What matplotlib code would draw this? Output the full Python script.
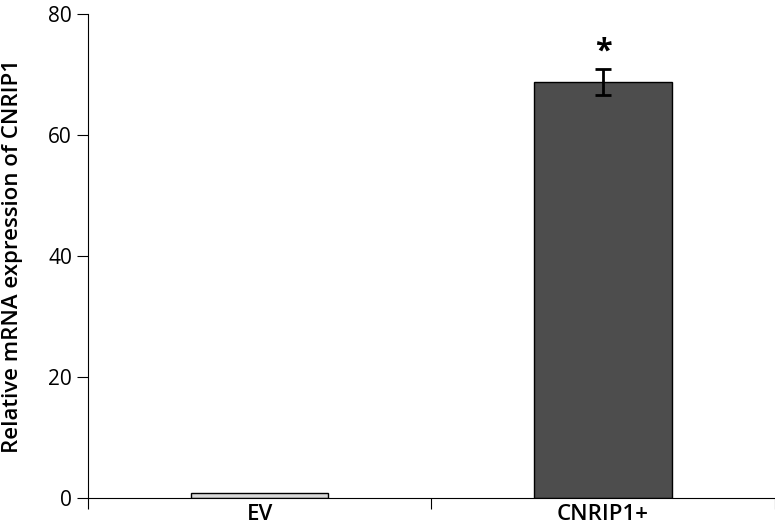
import matplotlib
matplotlib.use("Agg")
import matplotlib.pyplot as plt

categories = ["EV", "CNRIP1+"]
values = [0.9, 68.8]
errors = [0.0, 2.15]
colors = ["#d9d9d9", "#4d4d4d"]
y_ticks = [0, 20, 40, 60, 80]

plt.rcParams['font.family'] = ['Open Sans', 'DejaVu Sans']
fig = plt.figure(figsize=(7.75, 5.29), dpi=100)
ax = fig.add_axes([0.1135, 0.0586, 0.886, 0.915])
x = list(range(len(categories)))
ax.bar(x, values, width=0.4, color=colors, edgecolor="black", linewidth=1)
ax.errorbar(x[1], values[1], yerr=errors[1], fmt="none", ecolor="black", capsize=6, elinewidth=2, capthick=2)
ax.text(x[1], values[1] + errors[1] + 0.3, "*", ha="center", va="bottom", fontsize=22, fontweight="bold")
ax.set_xlim(-0.5, 1.5)
ax.set_ylim(0, 80)
ax.set_yticks(y_ticks)
ax.set_xticks([-0.5, 0.5, 1.5])
ax.set_xticklabels([])
ax.set_xticks(x, minor=True)
ax.set_xticklabels(categories, minor=True, fontsize=16, fontweight="semibold")
ax.tick_params(axis="x", which="minor", length=0, pad=4)
ax.tick_params(axis="x", which="major", length=8, direction="out")
ax.tick_params(axis="y", labelsize=15, length=8)
ax.spines["top"].set_visible(False)
ax.spines["right"].set_visible(False)
ax.set_ylabel("Relative mRNA expression of CNRIP1", fontsize=16, fontweight="semibold", labelpad=18)
fig.savefig("out.png", dpi=100)
